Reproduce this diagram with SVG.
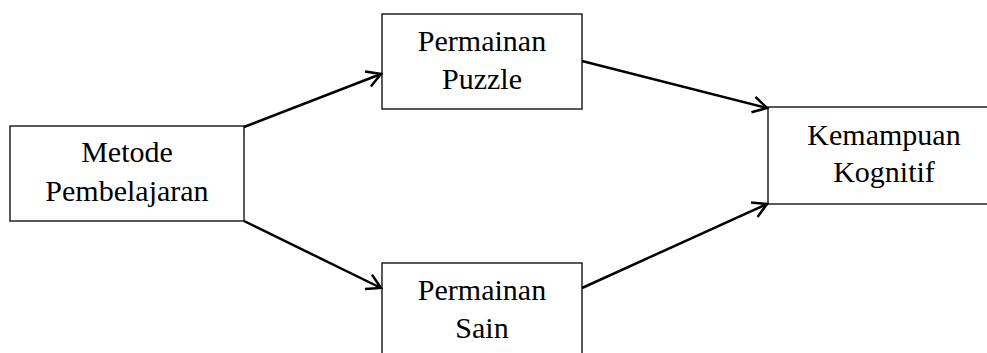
<svg xmlns="http://www.w3.org/2000/svg" width="987" height="353" viewBox="0 0 987 353">
<style>
.box{fill:#fff;stroke:#000;stroke-width:1.3}
.t{font-family:"Liberation Serif","Times New Roman",serif;font-size:30px;fill:#000;text-anchor:middle}
.c{stroke:#000;stroke-width:2.5;fill:none}
</style>
<defs>
<marker id="ah" viewBox="0 0 20 20" refX="16" refY="10" markerWidth="20" markerHeight="20" markerUnits="userSpaceOnUse" orient="auto">
<polyline points="2,2 16,10 2,18" fill="none" stroke="#000" stroke-width="2.5"/>
</marker>
</defs>
<g id="metode">
<rect class="box" x="10" y="126" width="234" height="95"/>
<text class="t" x="127" y="162">Metode</text>
<text class="t" x="127" y="201">Pembelajaran</text>
</g>
<g id="puzzle">
<rect class="box" x="382" y="14" width="200" height="95"/>
<text class="t" x="482" y="51">Permainan</text>
<text class="t" x="482" y="89">Puzzle</text>
</g>
<g id="sain">
<rect class="box" x="382" y="263" width="200" height="100"/>
<text class="t" x="482" y="300">Permainan</text>
<text class="t" x="482" y="338">Sain</text>
</g>
<g id="kognitif">
<rect class="box" x="768" y="107" width="230" height="97"/>
<text class="t" x="884" y="145">Kemampuan</text>
<text class="t" x="884" y="182">Kognitif</text>
</g>
<g id="connectors">
<line class="c" x1="244" y1="127" x2="381" y2="74" marker-end="url(#ah)"/>
<line class="c" x1="244" y1="221" x2="381" y2="288" marker-end="url(#ah)"/>
<line class="c" x1="582" y1="61" x2="767" y2="108" marker-end="url(#ah)"/>
<line class="c" x1="582" y1="288" x2="767" y2="204" marker-end="url(#ah)"/>
</g>
</svg>
